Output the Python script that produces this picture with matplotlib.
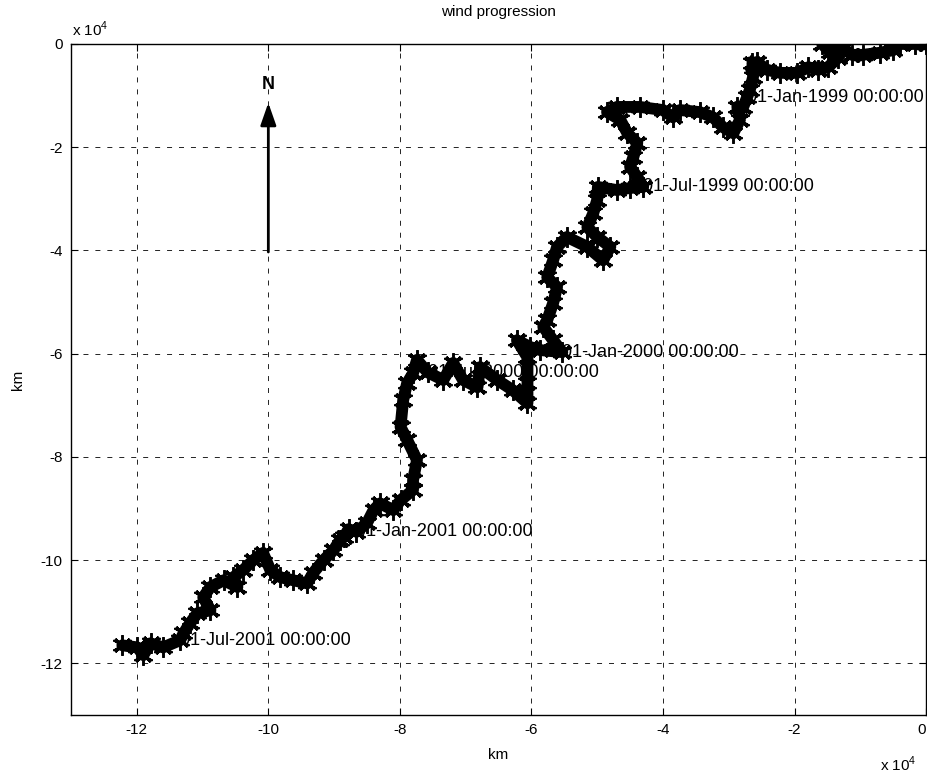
import matplotlib
matplotlib.use("Agg")
import matplotlib.pyplot as plt

# ── Style: MATLAB-ish look ──
plt.rcParams['font.family'] = ['Liberation Sans', 'DejaVu Sans']
plt.rcParams['mathtext.fontset'] = 'custom'
plt.rcParams['mathtext.rm'] = 'Liberation Sans'
plt.rcParams['lines.scale_dashes'] = False

# ── Data (units of 1e4 km, east / north of start) ──
east = [0.00, -0.17, -0.40, -0.50, -0.70, -0.96, -1.13, -1.26, -1.41, -1.58,
        -1.46, -1.34, -1.49, -1.64, -1.79, -1.96, -2.22, -2.42, -2.57, -2.64,
        -2.63, -2.68, -2.72, -2.78, -2.87, -2.83, -2.93, -3.09, -3.24, -3.44,
        -3.74, -3.85, -4.00, -4.35, -4.70, -4.85, -4.65, -4.54, -4.39, -4.45,
        -4.50, -4.39, -4.30, -4.50, -4.70, -4.99, -5.00, -5.06, -5.15, -5.00,
        -4.80, -4.91, -5.15, -5.46, -5.61, -5.67, -5.76, -5.61, -5.67, -5.76,
        -5.82, -5.67, -5.53, -5.87, -6.02, -6.22, -6.06, -6.06, -6.06, -6.28,
        -6.52, -6.78, -6.82, -7.04, -7.19, -7.34, -7.58, -7.74, -7.80, -7.89,
        -7.95, -7.99, -7.89, -7.74, -7.80, -7.80, -7.99, -8.10, -8.30, -8.40,
        -8.50, -8.66, -8.78, -8.85, -8.91, -9.01, -9.16, -9.32, -9.41, -9.62,
        -9.82, -9.97, -10.08, -10.23, -10.38, -10.53, -10.47, -10.68, -10.88, -10.99,
        -10.88, -11.08, -11.19, -11.29, -11.34, -11.60, -11.79, -11.90, -11.99, -12.22]
north = [0.00, 0.00, 0.00, -0.12, -0.17, -0.21, -0.21, -0.08, -0.02, 0.00,
         -0.16, -0.27, -0.45, -0.50, -0.45, -0.56, -0.56, -0.50, -0.35, -0.37,
         -0.64, -0.89, -1.03, -1.22, -1.22, -1.47, -1.73, -1.61, -1.42, -1.32,
         -1.28, -1.42, -1.28, -1.22, -1.22, -1.32, -1.47, -1.73, -1.92, -2.19,
         -2.38, -2.58, -2.77, -2.79, -2.83, -2.77, -3.02, -3.28, -3.55, -3.74,
         -3.93, -4.19, -3.93, -3.74, -3.93, -4.19, -4.52, -4.71, -5.02, -5.35,
         -5.48, -5.74, -5.97, -5.93, -5.87, -5.74, -6.07, -6.57, -6.96, -6.71,
         -6.51, -6.26, -6.65, -6.51, -6.18, -6.51, -6.36, -6.12, -6.38, -6.57,
         -6.90, -7.42, -7.67, -8.06, -8.45, -8.64, -8.84, -9.03, -8.90, -9.03,
         -9.28, -9.45, -9.40, -9.55, -9.61, -9.81, -10.00, -10.25, -10.45, -10.39,
         -10.33, -10.19, -9.86, -10.00, -10.19, -10.33, -10.52, -10.39, -10.52, -10.72,
         -10.97, -11.03, -11.22, -11.42, -11.55, -11.69, -11.61, -11.84, -11.69, -11.65]

label_idx = [22, 42, 62, 76, 91, 114]
label_text = ['01-Jan-1999 00:00:00', '01-Jul-1999 00:00:00', '01-Jan-2000 00:00:00',
              '01-Jul-2000 00:00:00', '01-Jan-2001 00:00:00', '01-Jul-2001 00:00:00']

ticks = [-12, -10, -8, -6, -4, -2, 0]

fig = plt.figure(figsize=(9.27, 7.74), dpi=100)
ax = fig.add_axes([0.0766, 0.0762, 0.9224, 0.867])

# path: thick line with asterisk markers
ax.plot(east, north, color='k', lw=8.5, solid_capstyle='round',
        solid_joinstyle='round', zorder=3)
ax.plot(east, north, linestyle='none', marker=(6, 2, 0), markersize=15,
        markeredgewidth=1.4, color='k', zorder=3)
ax.plot(east, north, linestyle='none', marker=(4, 2, 45), markersize=14,
        markeredgewidth=1.2, color='k', zorder=3)

# date labels (under the track)
for i, s in zip(label_idx, label_text):
    ax.text(east[i], north[i], s, fontsize=13, ha='left', va='center', zorder=2)

# north arrow
ax.annotate('', xy=(-10, -1.14), xytext=(-10, -4.03),
            arrowprops=dict(arrowstyle='-|>,head_length=0.8,head_width=0.28',
                            mutation_scale=17, lw=2, color='k', shrinkA=0, shrinkB=0),
            zorder=4)
ax.text(-10, -0.78, 'N', fontsize=13, fontweight='bold', ha='center', va='center')

ax.set_xlim(-13, 0)
ax.set_ylim(-13, 0)
ax.set_xticks(ticks)
ax.set_yticks(ticks)
ax.set_xticklabels([str(t) for t in ticks])
ax.set_yticklabels([str(t) for t in ticks])
ax.get_xticklabels()[-1].set_horizontalalignment('right')
ax.tick_params(direction='in', top=True, right=True, length=5, labelsize=11, pad=6)
ax.grid(True, color='k', lw=0.6, linestyle=(0, (3.6, 5.0)))
for sp in ax.spines.values():
    sp.set_linewidth(1.0)

ax.set_title('wind progression', fontsize=11, pad=20)
ax.set_xlabel('km', fontsize=11, labelpad=8)
ax.set_ylabel('km', fontsize=11, labelpad=11)

fig.text(0.078, 0.962, r'x 10$^{4}$', fontsize=11, ha='left', va='center')
fig.text(0.949, 0.012, r'x 10$^{4}$', fontsize=11, ha='left', va='center')

fig.savefig('out.png', dpi=100)
